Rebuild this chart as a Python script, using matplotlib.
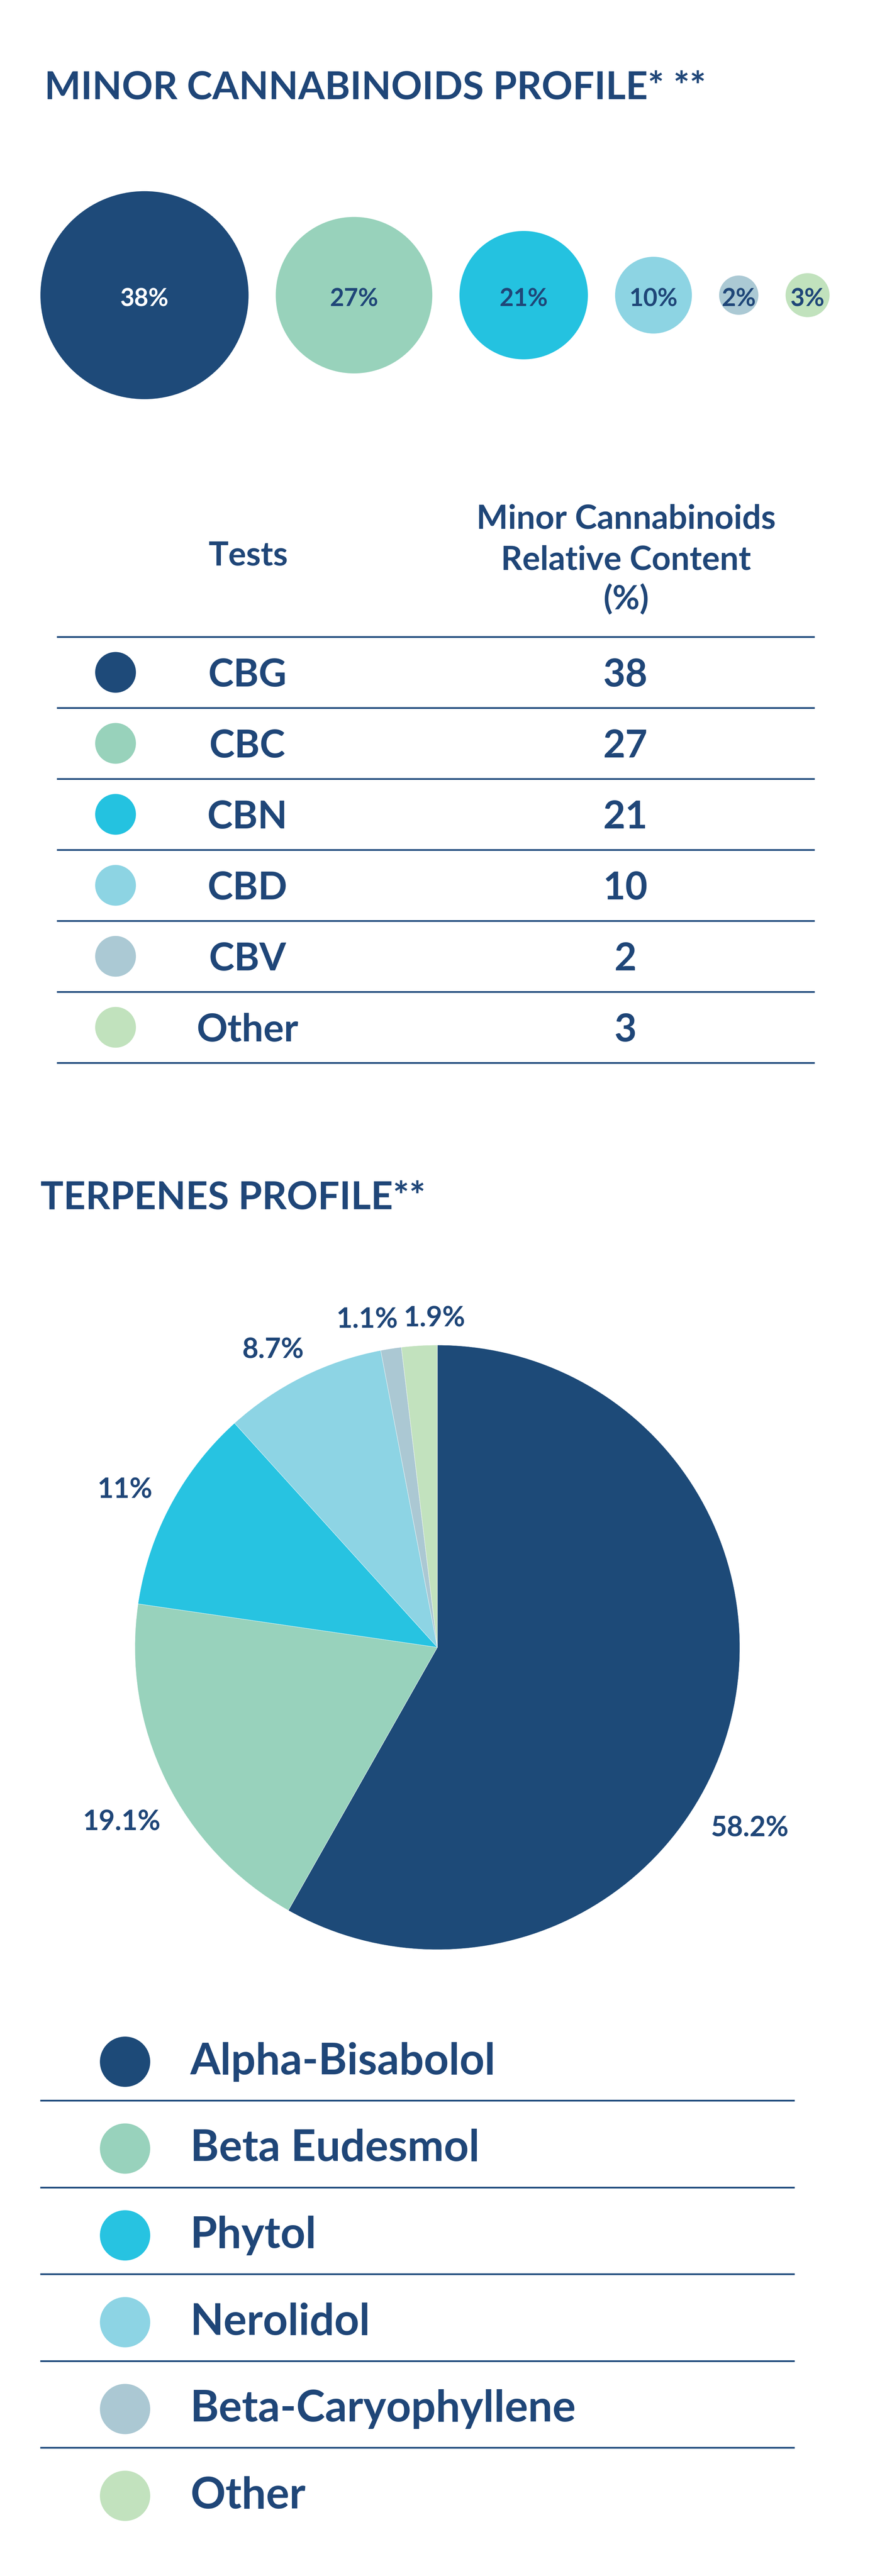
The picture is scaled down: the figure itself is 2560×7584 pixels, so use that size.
import matplotlib
matplotlib.use("Agg")
import matplotlib.pyplot as plt
from matplotlib.patches import Circle
import numpy as np

plt.rcParams['font.family'] = ['Lato', 'DejaVu Sans']

# minor cannabinoids (bubbles + table)
cann_names = ["CBG", "CBC", "CBN", "CBD", "CBV", "Other"]
cann_values = [38, 27, 21, 10, 2, 3]
cann_colors = ["#1e4a79", "#98d2bb", "#24c2e0", "#8dd4e3", "#abc9d4", "#c1e2bd"]
table_header = ["Tests", "Minor Cannabinoids", "Relative Content", "(%)"]

# terpenes (pie + legend)
terp_names = ["Alpha-Bisabolol", "Beta Eudesmol", "Phytol", "Nerolidol",
              "Beta-Caryophyllene", "Other"]
terp_values = [58.2, 19.1, 11, 8.7, 1.1, 1.9]
terp_labels = ["58.2%", "19.1%", "11%", "8.7%", "1.1%", "1.9%"]
terp_colors = ["#1d4a78", "#98d2bc", "#27c3e1", "#8dd4e4", "#abc8d3", "#c2e2be"]

navy = "#1f4678"
line_col = "#1f4a7c"

W, H = 2560, 7585
DPI = 100
fig = plt.figure(figsize=(W / DPI, H / DPI), dpi=DPI)
ax = fig.add_axes([0, 0, 1, 1])
ax.set_xlim(0, W)
ax.set_ylim(H, 0)
ax.axis("off")

CAP = 0.7165  # cap height of Lato, in em


def pt(px):
    return px * 72 / DPI


def label(x, y, s, size_px, ha="left", color=navy, weight="bold"):
    # y = vertical middle of the capitals
    ax.text(x, y + CAP * size_px / 2, s, fontsize=pt(size_px), ha=ha,
            va="baseline", color=color, fontweight=weight)


# ---- minor cannabinoids bubbles
label(131, 252, "MINOR CANNABINOIDS PROFILE* **", 113)

radii = [44 + 6.9 * v for v in cann_values]
left, right, cy = 119, 2441, 870
gap = (right - left - 2 * sum(radii)) / (len(radii) - 1)
x = left
for i, (r, v, c) in enumerate(zip(radii, cann_values, cann_colors)):
    cx = x + r
    ax.add_patch(Circle((cx, cy), r, color=c, lw=0))
    label(cx, cy + 6, f"{v}%", 72, ha="center",
          color="white" if i == 0 else navy)
    x = cx + r + gap

# ---- table
label(730, 1629, table_header[0], 98, ha="center")
for s, y in zip(table_header[1:], [1521, 1642, 1759]):
    label(1842, y, s, 98, ha="center")

row_step = 209
line_ys = [1876 + row_step * i for i in range(len(cann_names) + 1)]
ax.hlines(line_ys, 167, 2397, color=line_col, lw=pt(5))
for i, (n, v, c) in enumerate(zip(cann_names, cann_values, cann_colors)):
    yc = line_ys[i] + row_step / 2
    ax.add_patch(Circle((340, yc), 60, color=c, lw=0))
    label(728, yc, n, 113, ha="center")
    label(1840, yc, str(v), 113, ha="center")

# ---- terpenes pie
label(119, 3520, "TERPENES PROFILE**", 113)

pcx, pcy, R = 1287, 4851, 890
ax_pie = fig.add_axes([(pcx - R) / W, (H - pcy - R) / H, 2 * R / W, 2 * R / H])
wedges, _ = ax_pie.pie(terp_values, colors=terp_colors, startangle=90,
                       counterclock=False,
                       wedgeprops=dict(linewidth=0.6, edgecolor="white"))
ax_pie.set_xlim(-1, 1)
ax_pie.set_ylim(-1, 1)
ax_pie.axis("off")

lab_dist = [1.19, 1.19, 1.16, 1.13, 1.115, 1.095]
lab_nudge = [-15, 2.6, 1, 2.3, 3.2, -2.9]
for w, s, d, n in zip(wedges, terp_labels, lab_dist, lab_nudge):
    a = np.deg2rad((w.theta1 + w.theta2) / 2 + n)
    label(pcx + d * R * np.cos(a), pcy - d * R * np.sin(a), s, 82, ha="center")

# ---- terpenes legend
leg_step = 255.6
leg_ys = [6071 + leg_step * i for i in range(len(terp_names))]
ax.hlines([y + 114 for y in leg_ys[:-1]], 118, 2338, color=line_col, lw=pt(5))
for y, n, c in zip(leg_ys, terp_names, terp_colors):
    ax.add_patch(Circle((368, y), 74, color=c, lw=0))
    label(560, y - 10, n, 128)

fig.savefig("out.png", dpi=DPI)
